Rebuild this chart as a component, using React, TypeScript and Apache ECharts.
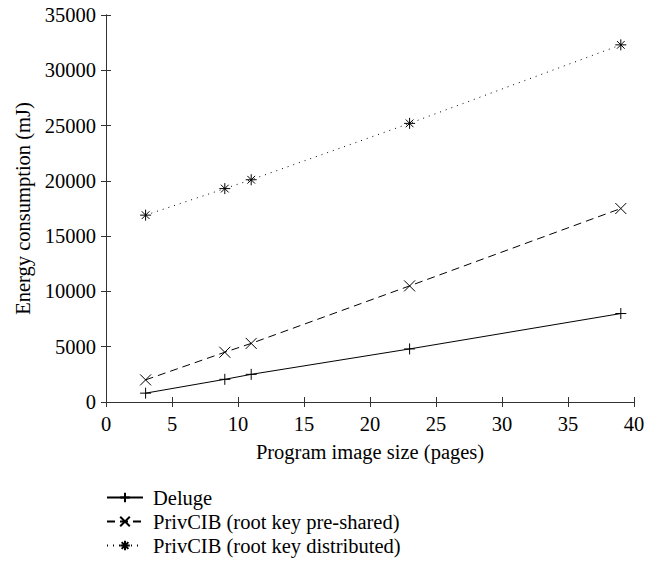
import React, { useEffect, useRef } from "react";
import * as echarts from "echarts";

const pages = [3, 9, 11, 23, 39];
const deluge = [800, 2050, 2500, 4800, 8000];
const preShared = [2000, 4500, 5300, 10500, 17500];
const distributed = [16900, 19300, 20100, 25200, 32300];
const seriesNames = [
  "Deluge",
  "PrivCIB (root key pre-shared)",
  "PrivCIB (root key distributed)",
];

const FONT = "Liberation Serif";
const FS = 20.5;
const PLUS = "path://M0,5L10,5M5,0L5,10";
const CROSS = "path://M0,0L10,10M10,0L0,10";
const STAR = "path://M0,5L10,5M5,0L5,10M1.5,1.5L8.5,8.5M8.5,1.5L1.5,8.5";

const pairs = (ys: number[]) => pages.map((x, i) => [x, ys[i]]);

export default function App() {
  const ref = useRef<HTMLDivElement>(null);
  useEffect(() => {
    if (!ref.current) return;
    const chart = echarts.init(ref.current, undefined, { renderer: "svg" });
    const axisLine = { show: true, lineStyle: { color: "#333", width: 1 } };
    const tick = { show: true, inside: true, length: 5, lineStyle: { color: "#333" } };
    const txt = { fontFamily: FONT, fontSize: FS, color: "#000" };
    const mk = (name: string, data: number[], symbol: string, type: any) => ({
      name,
      type: "line",
      data: pairs(data),
      symbol,
      symbolSize: 11,
      symbolKeepAspect: true,
      showSymbol: true,
      lineStyle: { color: "#000", width: 1, type },
      itemStyle: { color: "#000", borderColor: "#000", borderWidth: 1 },
      emphasis: { disabled: true },
      xAxisIndex: 0,
      yAxisIndex: 0,
    });
    chart.setOption({
      animation: false,
      textStyle: { fontFamily: FONT },
      grid: { left: 106, right: 29, top: 15, bottom: 162 },
      legend: {
        orient: "vertical",
        left: 106,
        top: 487,
        padding: 0,
        itemWidth: 36,
        itemHeight: 12,
        itemGap: 3,
        data: seriesNames,
        textStyle: { ...txt, padding: [0, 0, 0, 5] },
      },
      xAxis: [
        {
          type: "value",
          min: 0,
          max: 40,
          interval: 5,
          name: "Program image size (pages)",
          nameLocation: "middle",
          nameGap: 39,
          nameTextStyle: txt,
          axisLine,
          axisTick: tick,
          splitLine: { show: false },
          axisLabel: { ...txt, margin: 11 },
        },
        {
          type: "value",
          position: "top",
          min: 0,
          max: 40,
          interval: 5,
          axisLine,
          axisTick: tick,
          splitLine: { show: false },
          axisLabel: { show: false },
        },
      ],
      yAxis: [
        {
          type: "value",
          min: 0,
          max: 35000,
          interval: 5000,
          name: "Energy consumption (mJ)",
          nameLocation: "middle",
          nameGap: 73,
          nameTextStyle: txt,
          axisLine,
          axisTick: tick,
          splitLine: { show: false },
          axisLabel: { ...txt, margin: 10, formatter: (v: number) => String(v) },
        },
        {
          type: "value",
          position: "right",
          min: 0,
          max: 35000,
          interval: 5000,
          axisLine,
          axisTick: tick,
          splitLine: { show: false },
          axisLabel: { show: false },
        },
      ],
      series: [
        mk(seriesNames[0], deluge, PLUS, "solid"),
        mk(seriesNames[1], preShared, CROSS, [8, 5]),
        mk(seriesNames[2], distributed, STAR, [1, 5]),
      ],
    });
    return () => chart.dispose();
  }, []);
  return (
    <div
      ref={ref}
      style={{ position: "absolute", left: 0, top: 0, width: 663, height: 564 }}
    />
  );
}
